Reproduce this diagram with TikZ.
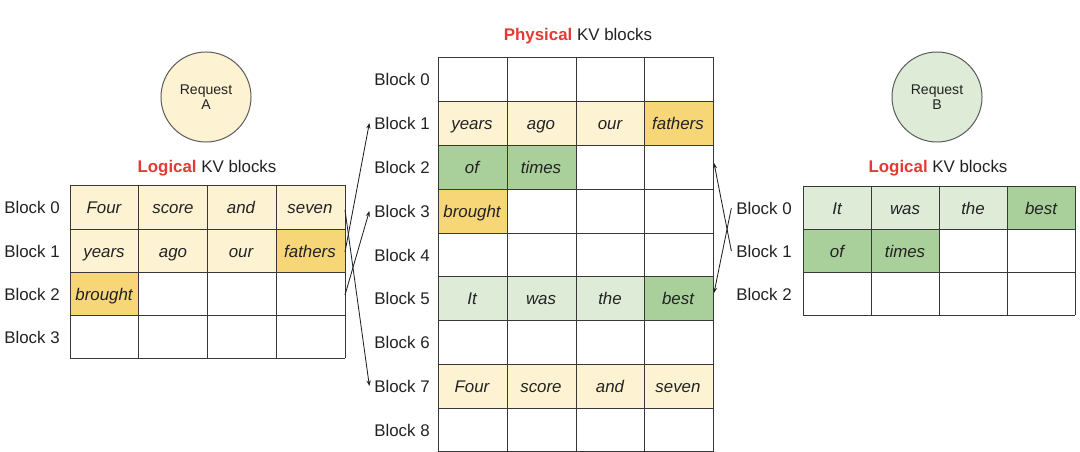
\documentclass[tikz,border=0pt]{standalone}
\usepackage{fontspec}
\setmainfont{Liberation Sans}
\usetikzlibrary{arrows.meta}
\definecolor{PaleYellow}{HTML}{FDF2D2}
\definecolor{Yellow}{HTML}{F6D676}
\definecolor{PaleGreen}{HTML}{DDEBD7}
\definecolor{Green}{HTML}{A9CF9A}
\definecolor{Red}{HTML}{E23B36}
\definecolor{Ink}{HTML}{222222}

\begin{document}
\begin{tikzpicture}[x=0.025cm,y=-0.025cm,>={Stealth[scale=0.7]},
  blocklabel/.style={font=\fontsize{12}{14}\selectfont,text=Ink,
    text height=2.0ex,text depth=0.3ex},
  word/.style={font=\fontsize{12}{14}\selectfont\itshape,text=Ink,
    text height=2.0ex,text depth=0.3ex},
  headline/.style={font=\fontsize{12}{14}\selectfont,text=Ink},
  gridline/.style={draw=Ink!90,line width=0.65pt},
  request/.style={circle,draw=Ink!75,line width=0.7pt,minimum size=2.25cm,
    align=center,font=\fontsize{10}{11}\selectfont,text=Ink}]

\useasboundingbox (0,0) rectangle (1080,452);

% request A and its logical blocks
\node[request,fill=PaleYellow] (reqA) at (206,97) {Request\\A};
\node[headline] (ltitle) at (207,168) {\textbf{\textcolor{Red}{Logical}} KV blocks};

\fill[PaleYellow] (70,185) rectangle (345,229);
\fill[PaleYellow] (70,229) rectangle (276,272);
\fill[Yellow] (276,229) rectangle (345,272);
\fill[Yellow] (70,272) rectangle (138,315);

\foreach \y in {185,229,272,315,358} \draw[gridline] (70,\y) -- (345,\y);
\foreach \x in {70,138,207,276,345} \draw[gridline] (\x,185) -- (\x,358);

\node[blocklabel] (l0) at (32,207) {Block 0};
\node[blocklabel] (l1) at (32,251) {Block 1};
\node[blocklabel] (l2) at (32,294) {Block 2};
\node[blocklabel] (l3) at (32,337) {Block 3};

\node[word] (a00) at (104,207) {Four};
\node[word] (a01) at (173,207) {score};
\node[word] (a02) at (241,207) {and};
\node[word] (a03) at (310,207) {seven};
\node[word] (a10) at (104,251) {years};
\node[word] (a11) at (173,251) {ago};
\node[word] (a12) at (241,251) {our};
\node[word] (a13) at (310,251) {fathers};
\node[word] (a20) at (104,294) {brought};

% physical blocks
\node[headline] (ptitle) at (578,36) {\textbf{\textcolor{Red}{Physical}} KV blocks};

\fill[PaleYellow] (438,101) rectangle (644,145);
\fill[Yellow] (644,101) rectangle (713,145);
\fill[Green] (438,145) rectangle (576,189);
\fill[Yellow] (438,189) rectangle (507,233);
\fill[PaleGreen] (438,276) rectangle (644,320);
\fill[Green] (644,276) rectangle (713,320);
\fill[PaleYellow] (438,364) rectangle (713,408);

\foreach \y in {57,101,145,189,233,276,320,364,408,451} \draw[gridline] (438,\y) -- (713,\y);
\foreach \x in {438,507,576,644,713} \draw[gridline] (\x,57) -- (\x,452);

\node[blocklabel] (p0) at (402,79) {Block 0};
\node[blocklabel] (p1) at (402,123) {Block 1};
\node[blocklabel] (p2) at (402,167) {Block 2};
\node[blocklabel] (p3) at (402,211) {Block 3};
\node[blocklabel] (p4) at (402,255) {Block 4};
\node[blocklabel] (p5) at (402,298) {Block 5};
\node[blocklabel] (p6) at (402,342) {Block 6};
\node[blocklabel] (p7) at (402,386) {Block 7};
\node[blocklabel] (p8) at (402,430) {Block 8};

\node[word] (q10) at (472,123) {years};
\node[word] (q11) at (541,123) {ago};
\node[word] (q12) at (610,123) {our};
\node[word] (q13) at (678,123) {fathers};
\node[word] (q20) at (472,167) {of};
\node[word] (q21) at (541,167) {times};
\node[word] (q30) at (472,211) {brought};
\node[word] (q50) at (472,298) {It};
\node[word] (q51) at (541,298) {was};
\node[word] (q52) at (610,298) {the};
\node[word] (q53) at (678,298) {best};
\node[word] (q70) at (472,386) {Four};
\node[word] (q71) at (541,386) {score};
\node[word] (q72) at (610,386) {and};
\node[word] (q73) at (678,386) {seven};

% request B and its logical blocks
\node[request,fill=PaleGreen] (reqB) at (937,97) {Request\\B};
\node[headline] (rtitle) at (938,168) {\textbf{\textcolor{Red}{Logical}} KV blocks};

\fill[PaleGreen] (803,186) rectangle (1007,229);
\fill[Green] (1007,186) rectangle (1075,229);
\fill[Green] (803,229) rectangle (939,272);

\foreach \y in {186,229,272,315} \draw[gridline] (803,\y) -- (1075,\y);
\foreach \x in {803,871,939,1007,1075} \draw[gridline] (\x,186) -- (\x,315);

\node[blocklabel] (r0) at (764,208) {Block 0};
\node[blocklabel] (r1) at (764,251) {Block 1};
\node[blocklabel] (r2) at (764,294) {Block 2};

\node[word] (b00) at (837,208) {It};
\node[word] (b01) at (905,208) {was};
\node[word] (b02) at (973,208) {the};
\node[word] (b03) at (1041,208) {best};
\node[word] (b10) at (837,251) {of};
\node[word] (b11) at (905,251) {times};

% block tables
\coordinate (la0) at (345,210);
\coordinate (la1) at (345,252);
\coordinate (la2) at (345,295);
\coordinate (pr2) at (714,163);
\coordinate (pr5) at (714,293);

\draw[->,Ink,line width=0.6pt] (la0) -- (p7.west);
\draw[->,Ink,line width=0.6pt] (la1) -- (p1.west);
\draw[->,Ink,line width=0.6pt] (la2) -- (p3.west);
\draw[->,Ink,line width=0.6pt] (r0.west) -- (pr5);
\draw[->,Ink,line width=0.6pt] (r1.west) -- (pr2);

\end{tikzpicture}
\end{document}
